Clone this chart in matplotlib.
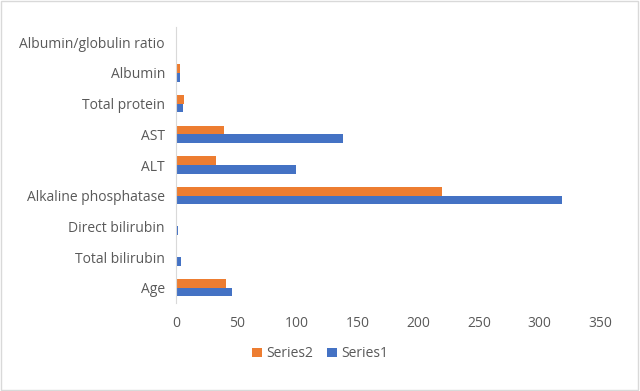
import matplotlib
matplotlib.use("Agg")
import matplotlib.pyplot as plt
import numpy as np

categories = ["Age", "Total bilirubin", "Direct bilirubin", "Alkaline phosphatase",
              "ALT", "AST", "Total protein", "Albumin", "Albumin/globulin ratio"]
series1 = [46, 4, 2, 318.5, 99, 138, 6, 3, 1.2]
series2 = [41, 1.2, 1.2, 219.5, 33, 40, 7, 3.5, 1.2]
xticks = [0, 50, 100, 150, 200, 250, 300, 350]

plt.rcParams["font.family"] = ["Open Sans", "DejaVu Sans"]
text_color = "#595959"

fig = plt.figure(figsize=(6.4, 3.91), dpi=100)
ax = fig.add_axes([0.275, 0.225, 0.6625, 0.706])

y = np.arange(len(categories))
h = 0.28
ax.barh(y - h / 2, series1, height=h, color="#4472C4", label="Series1")
ax.barh(y + h / 2, series2, height=h, color="#ED7D31", label="Series2")

ax.set_yticks(y)
ax.set_yticklabels(categories, fontsize=10, color=text_color)
ax.set_xticks(xticks)
ax.set_xticklabels([str(v) for v in xticks], fontsize=10, color=text_color)
ax.set_xlim(0, 350)
ax.set_ylim(-0.5, len(categories) - 0.5)
ax.tick_params(length=0, pad=8)
ax.tick_params(axis="x", pad=9)

for side in ["top", "right", "bottom"]:
    ax.spines[side].set_visible(False)
ax.spines["left"].set_color("#D9D9D9")

handles, labels = ax.get_legend_handles_labels()
fig.legend(handles[::-1], labels[::-1], loc="center", bbox_to_anchor=(0.5, 0.095),
           ncol=2, frameon=False, fontsize=10, handlelength=0.7, handleheight=0.7,
           columnspacing=1.0, handletextpad=0.3, labelcolor=text_color)

fig.patches.append(plt.Rectangle((0.002, 0.003), 0.995, 0.994, transform=fig.transFigure,
                                 fill=False, edgecolor="#D9D9D9", linewidth=1))

fig.savefig("out.png", dpi=100)
